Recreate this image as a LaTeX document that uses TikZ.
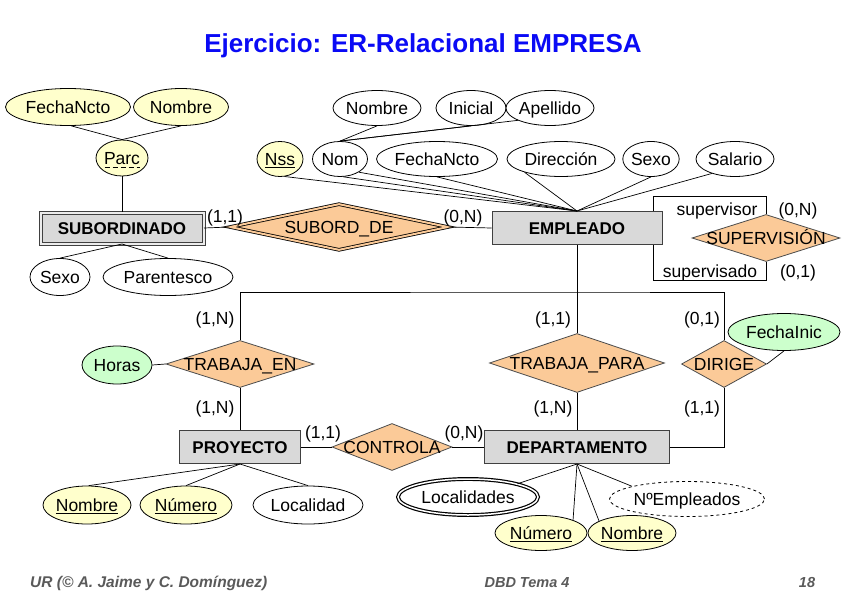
\documentclass[tikz,border=0pt]{standalone}
\usepackage{fontspec}
\setmainfont{Liberation Sans}
\usetikzlibrary{shapes.geometric}
\definecolor{keyyel}{RGB}{255,255,204}
\definecolor{entgray}{RGB}{217,217,217}
\definecolor{relor}{RGB}{251,202,152}
\definecolor{relgreen}{RGB}{204,255,204}
\definecolor{titleblue}{RGB}{10,10,245}
\definecolor{footgray}{RGB}{90,90,90}
\begin{document}
\begin{tikzpicture}[x=1pt,y=-1pt,
  txt/.style={font=\fontsize{17.5}{21}\selectfont, text height=12.5pt, text depth=0pt},
  attr/.style={ellipse, draw=black, line width=0.8pt, inner sep=0pt, minimum height=36pt, fill=white, txt},
  keyattr/.style={attr, fill=keyyel},
  derattr/.style={attr, fill=relgreen},
  ent/.style={rectangle, draw=black!75, line width=1pt, fill=entgray, inner sep=0pt,
    font=\bfseries\fontsize{17}{20}\selectfont, text height=12pt, text depth=0pt},
  rel/.style={diamond, draw=black!70, line width=0.8pt, fill=relor, inner sep=0pt},
  rlabel/.style={txt, inner sep=0pt, anchor=center},
  conn/.style={draw=black, line width=0.7pt},
  card/.style={txt, inner sep=0pt},
  foot/.style={font=\bfseries\itshape\fontsize{14.5}{17}\selectfont, text=footgray, inner sep=0pt}
]
\useasboundingbox (0,0) rectangle (848,599);
\fill[white] (0,0) rectangle (848,599);

% title
\node[font=\bfseries\fontsize{26}{31}\selectfont, text=titleblue] (title) at (423,46) {Ejercicio: ER-Relacional EMPRESA};

% SUBORDINADO and its attributes
\node[keyattr, minimum width=125pt, minimum height=37pt] (sfn) at (68,107) {FechaNcto};
\node[keyattr, minimum width=95pt, minimum height=37pt] (snom) at (181,107) {Nombre};
\node[keyattr, minimum width=52pt] (parc) at (122,158) {Parc};
\draw[line width=0.8pt, dash pattern=on 5pt off 3pt] ([shift={(-17.5,9)}]parc.center) -- ([shift={(17.5,9)}]parc.center);
\node[ent, minimum width=163pt, minimum height=31pt, double=entgray!50!white, double distance=2pt] (sub) at (122,228) {SUBORDINADO};
\node[attr, minimum width=60pt, minimum height=37pt] (ssex) at (60,277) {Sexo};
\node[attr, minimum width=130pt, minimum height=37pt] (spar) at (168,277) {Parentesco};

\draw[conn] (sfn.-80) -- (parc.north);
\draw[conn] (snom.south) -- (parc.north);
\draw[conn] (parc.south) -- (sub.north);
\draw[conn] (sub.south) -- (ssex.north);
\draw[conn] (sub.south) -- (spar.north);

% SUBORD_DE
\node[rel, draw=black, minimum width=218pt, minimum height=46pt, double=relor, double distance=2pt] (sd) at (339,227) {};
\node[rlabel] (sdl) at (sd.center) {SUBORD\_DE};

% EMPLEADO and attributes
\node[ent, minimum width=170pt, minimum height=33pt] (emp) at (577,228) {EMPLEADO};
\node[attr, minimum width=88pt, minimum height=35pt] (enom) at (377,108) {Nombre};
\node[attr, minimum width=70pt, minimum height=35pt] (eini) at (471,108) {Inicial};
\node[attr, minimum width=84pt, minimum height=35pt] (eape) at (550,108) {Apellido};
\node[keyattr, minimum width=46pt, minimum height=35pt] (nss) at (280,159) {\underline{Nss}};
\node[attr, minimum width=55pt, minimum height=35pt] (nom) at (340,159) {Nom};
\node[attr, minimum width=121pt, minimum height=35pt] (efn) at (437,159) {FechaNcto};
\node[attr, minimum width=108pt, minimum height=35pt] (dir) at (561,159) {Dirección};
\node[attr, minimum width=54pt, minimum height=35pt] (esex) at (651,159) {Sexo};
\node[attr, minimum width=78pt, minimum height=35pt] (sal) at (735,159) {Salario};

\draw[conn] (enom.south) -- (nom.north);
\draw[conn] (eini.south) -- (nom.north);
\draw[conn] (eape.201) -- (nom.north);
\draw[conn] (nss.-75) -- (emp.north);
\draw[conn] (nom.-80) -- (emp.north);
\draw[conn] (nom.-35) -- (emp.north);
\draw[conn] (efn.south) -- (emp.north);
\draw[conn] (dir.200) -- (emp.north);
\draw[conn] (esex.south) -- (emp.north);
\draw[conn] (sal.212) -- (emp.north);

\draw[conn] (sub.east) -- (sd.west);
\draw[conn] (sd.east) -- (emp.west);
\node[card] (c1) at (225,216) {(1,1)};
\node[card] (c2) at (463,216) {(0,N)};

% SUPERVISION
\node[rel, minimum width=148pt, minimum height=47pt] (sup) at (766,238) {};
\node[rlabel] (supl) at (sup.center) {SUPERVISIÓN};
\coordinate (svt) at (766,196);
\coordinate (svb) at (766,280);
\draw[conn] ([xshift=-9pt]emp.north east) |- (svt) -- (sup.north);
\draw[conn] ([xshift=-9pt]emp.south east) |- (svb) -- (sup.south);
\node[card] (lsv) at (717,209) {supervisor};
\node[card] (c3) at (798,209) {(0,N)};
\node[card] (lsd) at (710,271) {supervisado};
\node[card] (c4) at (798,271) {(0,1)};

% relationships middle
\coordinate (j) at (577,292);
\node[rel, minimum width=148pt, minimum height=47pt] (te) at (240,364) {};
\node[rlabel] (tel) at (te.center) {TRABAJA\_EN};
\node[rel, minimum width=175pt, minimum height=59pt] (tp) at (577,363) {};
\node[rlabel] (tpl) at (tp.center) {TRABAJA\_PARA};
\node[rel, minimum width=85pt, minimum height=47pt] (dg) at (724,364) {};
\node[rlabel] (dgl) at (dg.center) {DIRIGE};
\node[derattr, minimum width=112pt, minimum height=37pt] (fi) at (784,332) {FechaInic};
\node[derattr, minimum width=70pt, minimum height=38pt] (hor) at (117,365) {Horas};

\draw[conn] (te.north) |- (j) -| (dg.north);
\draw[conn] (emp.south) -- (tp.north);
\draw[conn] (hor.east) -- (te.west);
\draw[conn] (dg.east) -- (fi.south);

\node[card] (c5) at (215,318) {(1,N)};
\node[card] (c6) at (553,318) {(1,1)};
\node[card] (c7) at (702,318) {(0,1)};
\node[card] (c8) at (215,407) {(1,N)};
\node[card] (c9) at (553,407) {(1,N)};
\node[card] (c10) at (702,407) {(1,1)};

% bottom entities
\node[ent, minimum width=121pt, minimum height=33pt] (pro) at (240,447) {PROYECTO};
\node[rel, minimum width=120pt, minimum height=47pt] (ctr) at (392,447) {};
\node[rlabel] (ctrl) at (ctr.center) {CONTROLA};
\node[ent, minimum width=185pt, minimum height=33pt] (dep) at (577,447) {DEPARTAMENTO};

\draw[conn] (te.south) -- (pro.north);
\draw[conn] (tp.south) -- (dep.north);
\draw[conn] (dg.south) |- (dep.east);
\draw[conn] (pro.east) -- (ctr.west);
\draw[conn] (ctr.east) -- (dep.west);
\node[card] (c11) at (323,432) {(1,1)};
\node[card] (c12) at (464,432) {(0,N)};

% PROYECTO attributes
\node[keyattr, minimum width=88pt, minimum height=38pt] (pnom) at (87,505) {\underline{Nombre}};
\node[keyattr, minimum width=92pt, minimum height=38pt] (pnum) at (186,505) {\underline{Número}};
\node[attr, minimum width=110pt, minimum height=38pt] (ploc) at (308,505) {Localidad};
\draw[conn] (pro.south) -- (pnom.85);
\draw[conn] (pro.south) -- (pnum.north);
\draw[conn] (pro.south) -- (ploc.north);

% DEPARTAMENTO attributes
\node[attr, double, double distance=1.5pt, line width=1.2pt, minimum width=140pt, minimum height=36pt] (loc) at (468,497) {Localidades};
\node[attr, dashed, minimum width=155pt, minimum height=35pt] (nemp) at (687,499) {NºEmpleados};
\node[keyattr, minimum width=92pt, minimum height=35pt] (dnum) at (541,533) {\underline{Número}};
\node[keyattr, minimum width=88pt, minimum height=35pt] (dnom) at (632,533) {\underline{Nombre}};
\draw[conn] (dep.south) -- (loc.15);
\draw[conn] (dep.south) -- (dnum.22);
\draw[conn] (dep.south) -- (dnom.160);
\draw[conn] (dep.south) -- (nemp.167);

% footer
\node[foot, anchor=west, font=\bfseries\itshape\fontsize{15.5}{18}\selectfont] (f1) at (30,583) {UR (© A. Jaime y C. Domínguez)};
\node[foot] (f2) at (527,583) {DBD Tema 4};
\node[foot] (f3) at (807,583) {18};
\end{tikzpicture}
\end{document}
